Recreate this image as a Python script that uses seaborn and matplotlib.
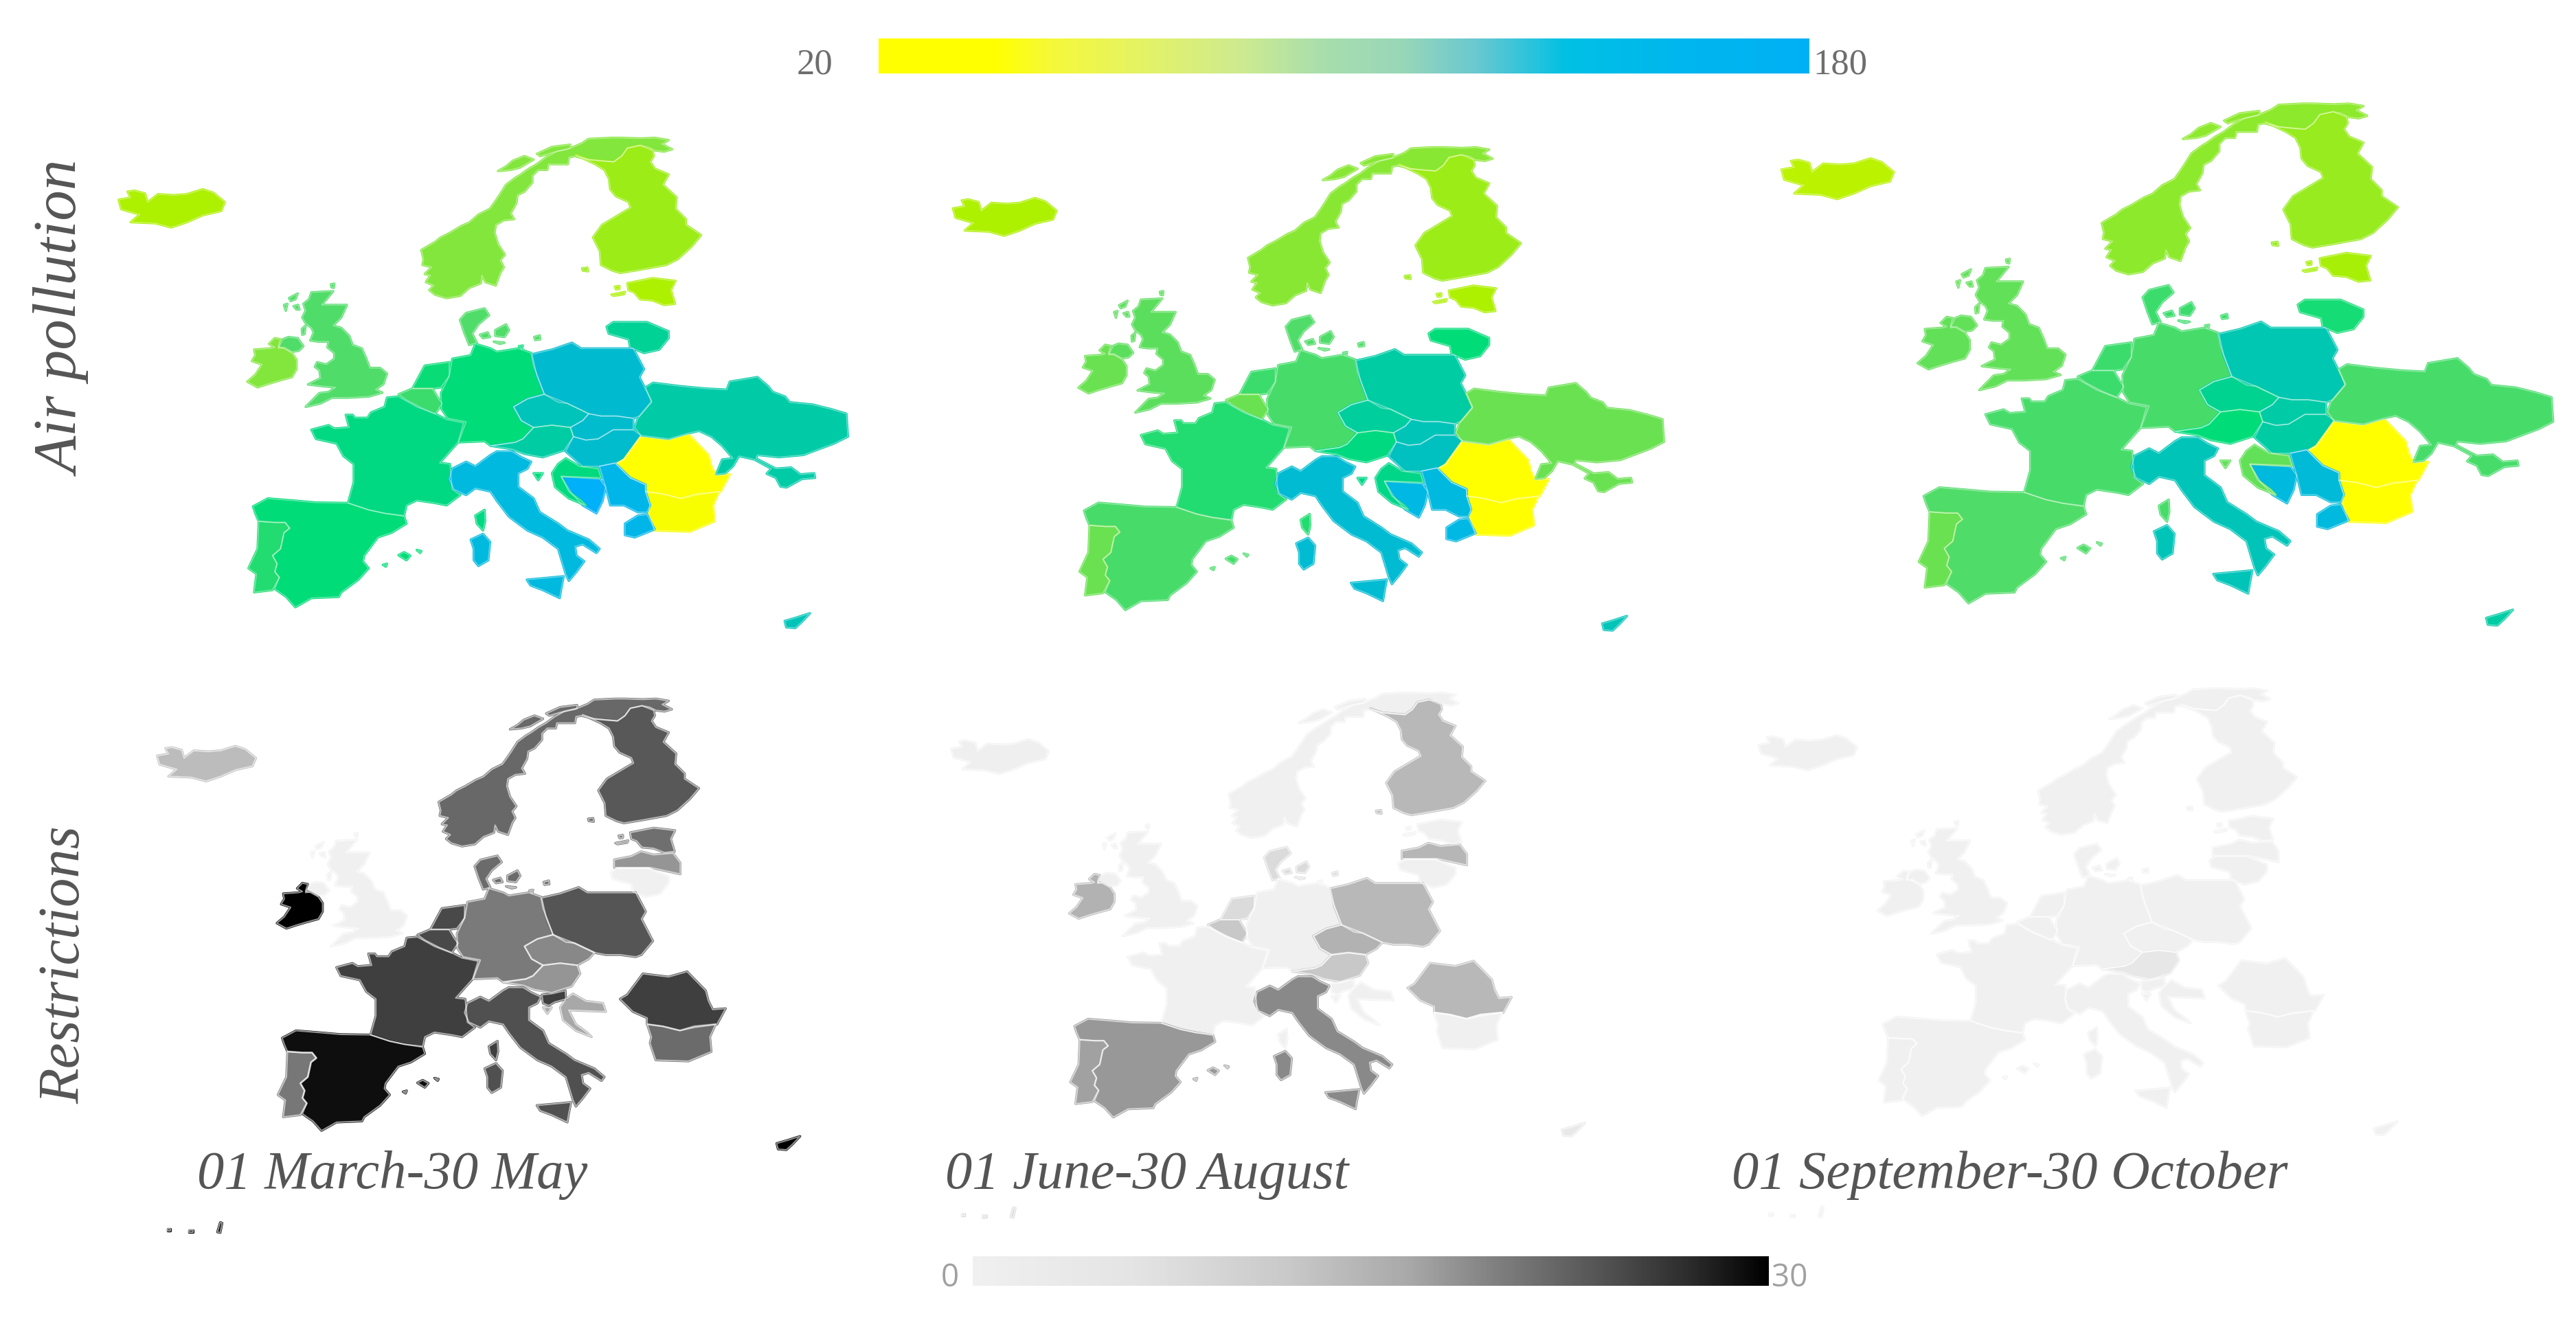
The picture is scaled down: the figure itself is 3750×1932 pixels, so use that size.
import numpy as np
import seaborn as sns
import matplotlib.pyplot as plt
from matplotlib.colors import LinearSegmentedColormap

W, H = 3750, 1933

countries = ["Iceland", "Norway", "Finland", "Estonia", "Latvia", "Lithuania", "Denmark", "UK", "Ireland",
             "Netherlands", "Belgium", "France", "Germany", "Poland", "Czechia", "Slovakia", "Austria",
             "Hungary", "Romania", "Bulgaria", "Ukraine", "Serbia", "Bosnia", "Croatia", "Slovenia",
             "Italy", "Greece", "Spain", "Portugal", "Cyprus", "Canaries"]

# values, None = country not drawn
air_mar_may = [44, 60, 50, 44, None, 108, 76, 76, 60, 90, 80, 97, 92, 143, 129, 140, 116, 141, 20, 22, 118, 165, 180,
               95, None, 155, 165, 92, 85, 128, None]
air_jun_aug = [44, 58, 50, 44, None, 92, 76, 72, 68, 80, 68, 85, 78, 116, 112, 128, 96, 132, 20, 20, 68, 155, 160,
               100, None, 145, 160, 78, 68, 128, None]
air_sep_oct = [40, 56, 52, 46, None, 88, 80, 70, 70, 80, 80, 78, 78, 124, 105, 118, 92, 115, 20, 20, 78, 150, 155,
               70, None, 128, 155, 76, 68, 115, None]
restr_mar_may = [13.6, 21.9, 23.3, 21.2, 18, 0, 21.5, 0, 30, 24.5, 24.5, 25.4, 20.2, 23.5, 19, None, 18, None, 25.4,
                 21.5, None, None, None, 16.5, 25.4, 24, None, 29, 20.5, 30, 29]
restr_jun_aug = [0.5, 0, 14.2, 0, 14.5, 0, 8, 0, 15, 8, 12, 0, 0, 14.2, 15, None, 12, None, 14.2, 0, None, None, None,
                 0, 0, 18.9, None, 17.8, 17, 4, 8]
restr_sep_oct = [0, 0, 0, 0, 0, 0, 0, 0, 0, 0, 0, 0, 0, 0, 0, None, 4.5, None, 0, 0, None, None, None, 0, 0, 0, None,
                 0, 0, 0, 0]

periods = ["01 March-30 May", "01 June-30 August", "01 September-30 October"]
row_labels = ["Air pollution", "Restrictions"]
air_ticks = ["20", "180"]
restr_ticks = ["0", "30"]


# outlines were traced on enlarged crops, bring them back to one map unit
def traced(x0, y0, sx, sy, rings):
    return [[((x0 + x * sx - 100) / .7653, (y0 + y * sy - 150) / .5102) for x, y in r] for r in rings]


def brit(rings):
    return traced(350, 400, 1 / 3, 1 / 3, rings)


def nord(rings):
    return traced(600, 190, 1 / 3, 1 / 3, rings)


def west(rings):
    return traced(350, 570, 1 / 3, 1 / 3, rings)


def mid(rings):
    return traced(500, 450, .4464, 1 / 3, rings)


shapes = {
    "Iceland": [[(95, 278), (118, 272), (112, 255), (125, 252), (145, 260), (150, 285), (170, 262), (200, 265),
                 (225, 262), (255, 248), (275, 258), (297, 285), (290, 310), (255, 322), (225, 342), (195, 357),
                 (165, 345), (118, 342), (135, 320), (100, 305)]],
    "Norway": nord([[(75, 700), (95, 680), (60, 665), (80, 635), (55, 630), (85, 600), (45, 590), (50, 565), (40, 525),
                     (100, 490), (125, 470), (165, 450), (215, 420), (250, 405), (290, 370), (340, 345), (365, 310),
                     (385, 280), (410, 240), (450, 210), (475, 195), (510, 170), (545, 150), (585, 120), (630, 95),
                     (680, 85), (740, 60), (770, 40), (870, 35), (910, 35), (1000, 38), (1060, 35), (1120, 45),
                     (1090, 62), (1135, 85), (1100, 95), (1060, 90), (1030, 75), (995, 68), (940, 80), (915, 115),
                     (880, 140), (820, 135), (770, 130), (710, 115), (685, 120), (680, 150), (640, 150), (595, 150),
                     (590, 175), (550, 175), (525, 200), (525, 230), (490, 270), (460, 285), (455, 320), (430, 365),
                     (445, 390), (400, 395), (365, 415), (360, 450), (375, 500), (405, 545), (385, 570), (400, 600),
                     (385, 625), (365, 680), (320, 665), (305, 635), (300, 670), (250, 690), (210, 725), (150, 735),
                     (100, 720)],
                    [(375, 180), (410, 160), (440, 135), (490, 115), (530, 130), (470, 165), (430, 175)],
                    [(545, 105), (610, 75), (690, 65), (690, 80), (610, 100), (560, 115)]]),
    "Finland": nord([[(715, 110), (770, 130), (820, 135), (880, 140), (915, 115), (940, 80), (995, 68), (1050, 90),
                      (1055, 115), (1040, 140), (1060, 170), (1120, 195), (1095, 240), (1155, 295), (1150, 345),
                      (1195, 390), (1195, 415), (1262, 460), (1220, 510), (1160, 565), (1110, 590), (1000, 610),
                      (910, 625), (875, 615), (825, 590), (820, 530), (790, 470), (830, 415), (880, 385), (955, 340),
                      (945, 315), (890, 290), (865, 260), (860, 215), (840, 175), (800, 150)],
                     [(742, 605), (765, 602), (768, 618), (745, 615)]]),
    "Estonia": nord([[(940, 670), (1050, 648), (1150, 660), (1130, 700), (1148, 760), (1100, 765), (1050, 745),
                      (995, 740), (970, 710), (945, 700)],
                     [(870, 720), (930, 708), (925, 718), (880, 725)],
                     [(885, 685), (905, 682), (905, 695), (890, 697)]]),
    "Latvia": [[(1030, 600), (1065, 590), (1085, 575), (1110, 585), (1150, 580), (1165, 610), (1165, 645), (1135, 635),
                (1105, 625), (1060, 625), (1030, 625)]],
    "Lithuania": mid([[(858, 80), (880, 60), (990, 60), (1060, 100), (1060, 130), (1030, 180), (980, 195), (935, 170),
                       (930, 135), (865, 110)]]),
    "Denmark": mid([[(380, 50), (400, 20), (460, 0), (475, 30), (440, 70), (420, 110), (435, 150), (410, 160),
                     (395, 110)],
                    [(495, 95), (530, 70), (540, 95), (525, 125), (495, 120)],
                    [(445, 115), (470, 105), (478, 125), (455, 130)],
                    [(490, 145), (525, 150), (510, 155)],
                    [(622, 125), (640, 118), (642, 135), (625, 138)]]),
    "UK": brit([[(310, 80), (405, 75), (380, 105), (355, 135), (465, 135), (440, 190), (405, 225), (440, 235),
                 (475, 270), (490, 310), (530, 325), (550, 370), (565, 410), (610, 410), (640, 435), (625, 480),
                 (590, 505), (620, 518), (560, 535), (470, 540), (400, 540), (350, 565), (285, 580), (320, 545),
                 (345, 520), (385, 515), (415, 495), (360, 490), (295, 482), (350, 455), (345, 420), (325, 405),
                 (335, 385), (375, 395), (410, 370), (410, 345), (380, 320), (385, 295), (340, 295), (305, 290),
                 (320, 255), (310, 235), (285, 215), (270, 190), (285, 160), (275, 130), (300, 110)],
                [(165, 325), (185, 285), (210, 275), (250, 280), (275, 315), (255, 335), (225, 340), (190, 320)],
                [(212, 105), (250, 85), (240, 110), (220, 118)],
                [(190, 135), (205, 130), (198, 160)],
                [(232, 140), (252, 135), (258, 155), (245, 155)],
                [(268, 240), (285, 225), (280, 262), (270, 265)],
                [(395, 45), (410, 42), (408, 60), (398, 58)]]),
    "Ireland": brit([[(125, 305), (150, 280), (175, 285), (165, 318), (190, 325), (225, 345), (245, 375), (245, 415),
                      (225, 450), (170, 465), (120, 480), (75, 495), (30, 470), (65, 440), (95, 395), (50, 380),
                      (65, 355), (60, 330), (130, 325), (150, 320)]]),
    "Netherlands": mid([[(265, 250), (345, 235), (345, 295), (318, 345), (290, 350), (225, 350)]]),
    "Belgium": mid([[(180, 375), (225, 350), (290, 350), (310, 395), (322, 415), (300, 460), (255, 435), (205, 400)]]),
    "France": west([[(640, 30), (690, 25), (770, 70), (860, 105), (900, 125), (975, 140), (950, 225), (870, 315),
                     (915, 320), (925, 430), (960, 455), (900, 500), (850, 490), (770, 478), (725, 500), (715, 545),
                     (630, 535), (560, 520), (470, 490), (495, 400), (495, 320), (450, 285), (420, 230), (330, 210),
                     (310, 170), (385, 150), (410, 165), (475, 160), (460, 105), (490, 105), (500, 118), (555, 118),
                     (570, 95), (630, 70)]]) + mid([[(430, 905), (460, 880), (462, 930), (455, 970), (435, 940)]]),
    "Germany": mid([[(430, 155), (415, 205), (355, 220), (345, 295), (318, 370), (320, 440), (340, 480), (400, 495),
                     (375, 585), (460, 580), (480, 600), (560, 585), (585, 570), (620, 520), (580, 490), (555, 430),
                     (600, 395), (655, 375), (620, 250), (612, 195), (570, 175), (500, 190), (480, 175)],
                    [(572, 165), (585, 162), (582, 178)]]),
    "Poland": mid([[(615, 200), (680, 180), (745, 150), (775, 175), (945, 175), (980, 265), (965, 300), (1005, 405),
                    (965, 470), (945, 480), (890, 470), (840, 470), (800, 460), (730, 415), (655, 375), (630, 290)]]),
    "Czechia": mid([[(555, 430), (600, 395), (655, 375), (700, 410), (730, 415), (800, 460), (780, 490), (740, 520),
                     (680, 510), (620, 520), (580, 490)]]),
    "Slovakia": mid([[(740, 520), (780, 490), (800, 460), (840, 470), (890, 470), (945, 480), (945, 530), (880, 530),
                      (830, 570), (790, 575), (750, 560)]]),
    "Austria": mid([[(620, 520), (680, 510), (740, 520), (750, 560), (720, 620), (650, 650), (590, 635), (550, 615),
                     (480, 600), (560, 585), (585, 570)]]),
    "Hungary": mid([[(750, 560), (790, 575), (830, 570), (880, 530), (945, 530), (970, 555), (915, 660), (890, 675),
                     (830, 690), (780, 690), (725, 625)]]),
    "Romania": mid([[(970, 560), (1060, 575), (1125, 550), (1190, 640), (1200, 690), (1215, 730), (1260, 725),
                     (1230, 800), (1150, 815), (1100, 830), (1040, 810), (985, 800), (985, 770), (935, 740), (890, 680),
                     (915, 660)]]),
    "Bulgaria": mid([[(985, 800), (1040, 810), (1100, 830), (1150, 810), (1225, 800), (1205, 860), (1210, 930),
                      (1130, 975), (1015, 970), (995, 890), (1000, 860)]]),
    "Ukraine": mid([[(985, 345), (1010, 325), (1100, 340), (1180, 350), (1250, 355), (1260, 320), (1350, 300),
                     (1385, 340), (1400, 365), (1440, 385), (1455, 410), (1530, 420), (1590, 440), (1640, 460),
                     (1645, 560), (1600, 590), (1560, 610), (1500, 640), (1420, 650), (1350, 640), (1345, 655),
                     (1410, 700), (1460, 695), (1490, 725), (1535, 720), (1538, 740), (1495, 745), (1445, 782),
                     (1425, 778), (1410, 740), (1380, 722), (1395, 700), (1340, 660), (1290, 645), (1270, 690),
                     (1245, 720), (1215, 725), (1235, 660), (1270, 655), (1235, 600), (1200, 560), (1160, 535),
                     (1125, 545), (1060, 570), (970, 555), (950, 520), (960, 480), (1005, 410)]]),
    "Serbia": mid([[(835, 690), (885, 675), (935, 740), (985, 770), (985, 800), (1000, 860), (990, 890), (960, 890),
                    (915, 860), (870, 860), (855, 780)]]),
    "Bosnia": mid([[(710, 735), (835, 745), (855, 780), (845, 840), (825, 895), (780, 860), (745, 810)]]),
    "Croatia": mid([[(725, 655), (770, 690), (830, 700), (840, 740), (710, 733), (735, 800), (775, 840), (790, 860),
                     (735, 830), (690, 780), (680, 720), (700, 680)],
                    [(620, 720), (650, 720), (635, 750)]]),
    "Slovenia": mid([[(616, 660), (650, 655), (698, 640), (700, 680), (660, 695), (640, 711), (620, 700)]]),
    "Italy": mid([[(355, 700), (400, 670), (430, 690), (480, 640), (500, 625), (550, 625), (580, 650), (612, 670),
                   (600, 700), (570, 720), (570, 780), (620, 830), (640, 890), (700, 940), (730, 970), (800, 1010),
                   (835, 1050), (825, 1068), (780, 1030), (755, 1040), (760, 1080), (785, 1105), (760, 1150),
                   (735, 1190), (725, 1160), (700, 1050), (650, 1000), (600, 970), (540, 910), (500, 840), (480, 800),
                   (430, 785), (400, 815), (360, 790), (345, 745)],
                  [(598, 1185), (640, 1180), (680, 1175), (718, 1170), (710, 1225), (705, 1265), (650, 1230),
                   (610, 1210)],
                  [(415, 1010), (455, 985), (478, 1020), (472, 1100), (440, 1125), (425, 1100), (425, 1050)]]),
    "Greece": mid([[(960, 905), (990, 900), (1015, 965), (950, 1000), (918, 990), (918, 940)]]),
    "Spain": west([[(55, 505), (120, 470), (240, 480), (330, 488), (470, 490), (560, 520), (630, 535), (715, 548),
                    (725, 580), (660, 620), (600, 640), (540, 720), (535, 745), (560, 775), (515, 825), (440, 880),
                    (430, 900), (310, 905), (240, 945), (200, 900), (150, 865), (170, 815), (150, 790), (160, 755),
                    (140, 720), (175, 690), (190, 620), (215, 600), (195, 575), (150, 575), (80, 570), (65, 535)],
                   [(690, 718), (715, 705), (742, 720), (725, 740)],
                   [(770, 695), (790, 700), (785, 708)],
                   [(622, 760), (640, 755), (635, 768)]]),
    "Portugal": west([[(80, 570), (150, 575), (195, 575), (215, 600), (190, 620), (175, 690), (140, 720), (160, 755),
                       (150, 790), (170, 815), (140, 870), (60, 880), (70, 800), (35, 775), (75, 690)]]),
    "Cyprus": [[(1362, 1480), (1385, 1470), (1395, 1465), (1410, 1458), (1395, 1482), (1382, 1500), (1365, 1498)]],
    "Canaries": [[(116, 1745), (122, 1745), (122, 1752), (116, 1752)], [(160, 1750), (168, 1750), (168, 1756), (160, 1756)],
                 [(218, 1755), (224, 1725), (228, 1727), (224, 1757)]],
}

sns.set_theme(style="white")
air_map = LinearSegmentedColormap.from_list("air_map", [(0, "#FFFF00"), (.15, "#ACF000"), (.25, "#82E63C"),
                                                        (.35, "#50DC68"), (.45, "#00DC78"), (.6, "#00CCA4"),
                                                        (.75, "#00BCCC"), (.88, "#00B8E4"), (1, "#00B0F8")])
air_bar = LinearSegmentedColormap.from_list("air_bar", [(0, "#FFFF00"), (.124, "#FFFF00"), (.19, "#F4F83C"),
                                                        (.29, "#E2F268"), (.39, "#CDEA90"), (.476, "#A8DEAC"),
                                                        (.564, "#98D6B8"), (.644, "#68C8D0"), (.74, "#00C0E4"),
                                                        (.868, "#00B6EE"), (1, "#00B0F4")])
grey = LinearSegmentedColormap.from_list("grey", [(0, "#F0F0F0"), (.2, "#E4E4E4"), (.4, "#C8C8C8"), (.55, "#A8A8A8"),
                                                  (.65, "#828282"), (.8, "#505050"), (.9, "#2C2C2C"), (1, "#000000")])

fig = plt.figure(figsize=(W / 100, H / 100), dpi=100, facecolor="white")


def draw_map(values, cmap, vmin, vmax, tx, ty, sx, sy, ymax, border, lw):
    ax = fig.add_axes([tx / W, 1 - (ty + sy * ymax) / H, sx * 1500 / W, sy * ymax / H])
    ax.set_xlim(0, 1500)
    ax.set_ylim(ymax, 0)
    ax.axis("off")
    ax.patch.set_alpha(0)
    drawn = [(name, val) for name, val in zip(countries, values) if val is not None]
    # same colour stroke closes the small gaps between traced neighbours
    for name, val in drawn:
        col = cmap((val - vmin) / (vmax - vmin))
        for ring in shapes[name]:
            xs, ys = zip(*ring)
            ax.fill(xs, ys, facecolor=col, edgecolor=col, linewidth=2.4, joinstyle="round")
    for name, val in drawn:
        for ring in shapes[name]:
            xs, ys = zip(*ring)
            ax.fill(xs, ys, facecolor="none", edgecolor=border, linewidth=lw, joinstyle="round")


draw_map(air_mar_may, air_map, 20, 180, 100, 150, .7653, .5102, 1520, "#FFFFFF60", 1.2)
draw_map(air_jun_aug, air_map, 20, 180, 1316.5, 164.6, .746, .5029, 1520, "#FFFFFF60", 1.2)
draw_map(air_sep_oct, air_map, 20, 180, 2516.5, 96.9, .8097, .5431, 1520, "#FFFFFF60", 1.2)
draw_map(restr_mar_may, grey, 0, 30, 161.2, 970.8, .7117, .4695, 1800, "#FFFFFF90", 1.5)
draw_map(restr_jun_aug, grey, 0, 30, 1318.2, 963, .7015, .4614, 1800, "#FFFFFF90", 1.5)
draw_map(restr_sep_oct, grey, 0, 30, 2493.3, 956.5, .7069, .4645, 1800, "#FFFFFF90", 1.5)

# colour bars
ax_top = fig.add_axes([1279 / W, 1 - 108 / H, 1355 / W, 51 / H])
sns.heatmap(np.linspace(20, 180, 256).reshape(1, -1), cmap=air_bar, cbar=False, xticklabels=False, yticklabels=False,
            ax=ax_top)
ax_low = fig.add_axes([1416 / W, 1 - 1873 / H, 1159 / W, 43 / H])
sns.heatmap(np.linspace(0, 30, 256).reshape(1, -1), cmap=grey, cbar=False, xticklabels=False, yticklabels=False,
            ax=ax_low)

serif = "Liberation Serif"
fig.text(1160 / W, 1 - 107 / H, air_ticks[0], family=serif, fontsize=38, color="#6E6E6E", va="baseline")
fig.text(2639 / W, 1 - 107 / H, air_ticks[1], family=serif, fontsize=38, color="#6E6E6E", va="baseline")
fig.text(1370 / W, 1 - 1873 / H, restr_ticks[0], family="Open Sans", fontsize=33, color="#A0A0A0", va="baseline")
fig.text(2579 / W, 1 - 1873 / H, restr_ticks[1], family="Open Sans", fontsize=33, color="#A0A0A0", va="baseline")

for label, x in zip(periods, [287, 1376, 2521]):
    fig.text(x / W, 1 - 1730 / H, label, family=serif, style="italic", fontsize=56.5, color="#555555", va="baseline")

fig.text(115 / W, 1 - 693 / H, row_labels[0], family=serif, style="italic", fontsize=64, color="#555555",
         rotation=90, ha="left", va="baseline", rotation_mode="anchor")
fig.text(115 / W, 1 - 1607 / H, row_labels[1], family=serif, style="italic", fontsize=61, color="#555555",
         rotation=90, ha="left", va="baseline", rotation_mode="anchor")

fig.savefig("out.png", dpi=100)
